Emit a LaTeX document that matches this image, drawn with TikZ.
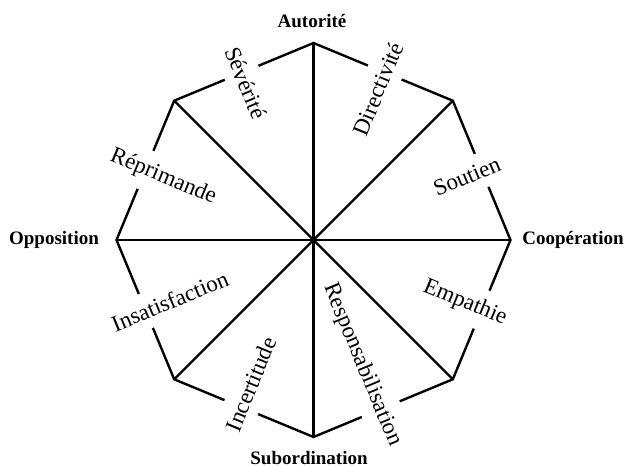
\documentclass[tikz,border=0pt]{standalone}
\usepackage{fontspec}
\setmainfont{Liberation Serif}
\usepackage{tikz}

\begin{document}
\begin{tikzpicture}[x=1pt, y=1pt, line width=2.4pt,
  axe/.style={font=\fontsize{19}{22}\selectfont\bfseries},
  lbl/.style={font=\fontsize{23}{27}\selectfont, fill=white, inner xsep=1pt, inner ysep=10pt}]
  \useasboundingbox (-313.5,-226) rectangle (312.5,240);
  \coordinate (o) at (0,0);
  \coordinate (a) at (90:197);
  \coordinate (b) at (45:197);
  \coordinate (c) at (0:197);
  \coordinate (d) at (-45:197);
  \coordinate (e) at (-90:197);
  \coordinate (f) at (-135:197);
  \coordinate (g) at (180:197);
  \coordinate (h) at (135:197);
  \node[axe] (aut) at (-1.5, 219) {Autorité};
  \node[axe] (coop) at (259.5, 0) {Coopération};
  \node[axe] (sub) at (-4.5, -218) {Subordination};
  \node[axe] (opp) at (-259.5, 0) {Opposition};

  \draw (a) -- (b) -- (c) -- (d) -- (e) -- (f) -- (g) -- (h) -- cycle;
  \node[lbl, rotate=67.5] (dir) at (66.9:164) {Directivité};
  \node[lbl, rotate=22.5] (sou) at (22.5:166) {Soutien};
  \node[lbl, rotate=-22.5] (emp) at (-22.5:164) {Empathie};
  \node[lbl, rotate=-67.5] (res) at (-68.6:134) {Responsabilisation};
  \node[lbl, rotate=67.5] (inc) at (-113.5:157) {Incertitude};
  \node[lbl, rotate=22.5] (ins) at (-157:156) {Insatisfaction};
  \node[lbl, rotate=-22.5] (rep) at (157.3:163) {Réprimande};
  \node[lbl, rotate=-67.5] (sev) at (113.3:171) {Sévérité};

  \draw (o) -- (a);
  \draw (o) -- (b);
  \draw (o) -- (c);
  \draw (o) -- (d);
  \draw (o) -- (e);
  \draw (o) -- (f);
  \draw (o) -- (g);
  \draw (o) -- (h);
\end{tikzpicture}
\end{document}
